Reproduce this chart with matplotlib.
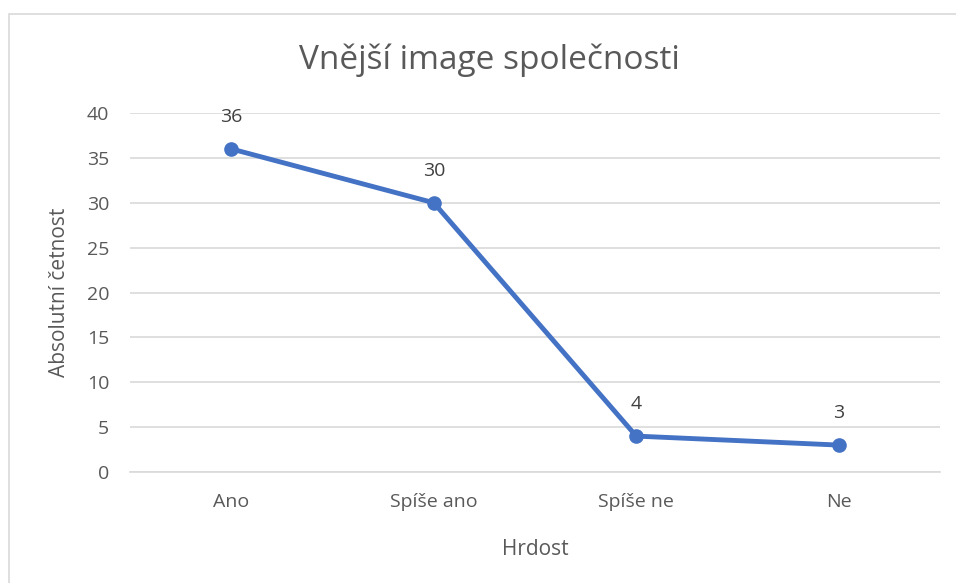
import matplotlib
matplotlib.use("Agg")
import matplotlib.pyplot as plt
from matplotlib.patches import Rectangle

categories = ["Ano", "Spíše ano", "Spíše ne", "Ne"]
values = [36, 30, 4, 3]
yticks = [0, 5, 10, 15, 20, 25, 30, 35, 40]
title = "Vnější image společnosti"
xlabel = "Hrdost"
ylabel = "Absolutní četnost"

W, H = 956, 583
fig = plt.figure(figsize=(W / 100, H / 100), dpi=100)
plt.rcParams['font.family'] = ['Open Sans', 'DejaVu Sans']
text_color = "#595959"
grid_color = "#D9D9D9"
line_color = "#4472C4"

# chart border (left/top visible)
fig.patches.append(Rectangle((8.5 / W, -0.1), 1.2, 1.1 - 14.5 / H,
                             transform=fig.transFigure, fill=False,
                             edgecolor=grid_color, linewidth=1.2))

left, right = 130 / W, 940 / W
bottom, top = 1 - 472 / H, 1 - 113 / H
ax = fig.add_axes([left, bottom, right - left, top - bottom])

x = list(range(len(categories)))
ax.plot(x, values, color=line_color, linewidth=3.5, marker="o", markersize=9.5,
        solid_capstyle="round", zorder=3)
for xi, v in zip(x, values):
    ax.annotate(str(v), (xi, v), xytext=(0, 23), textcoords="offset points",
                ha="center", va="center", fontsize=14, color="#404040")

ax.set_xlim(-0.5, len(categories) - 0.5)
ax.set_ylim(0, 40)
ax.set_yticks(yticks)
ax.set_xticks(x)
ax.set_xticklabels(categories)
ax.grid(axis="y", color=grid_color, linewidth=1.2)
ax.set_axisbelow(True)
for s in ["top", "right", "left"]:
    ax.spines[s].set_visible(False)
ax.spines["bottom"].set_color(grid_color)
ax.spines["bottom"].set_linewidth(1.2)
ax.tick_params(axis="both", length=0, labelsize=14, colors=text_color)
ax.tick_params(axis="x", pad=15)
ax.tick_params(axis="y", pad=15)

ax.set_xlabel(xlabel, fontsize=15, color=text_color, labelpad=20)
ax.set_ylabel(ylabel, fontsize=15, color=text_color, labelpad=12)
fig.text(489 / W, 1 - 60 / H, title, ha="center", va="center",
         fontsize=24, color=text_color)

fig.savefig("out.png", dpi=100, facecolor="white")
